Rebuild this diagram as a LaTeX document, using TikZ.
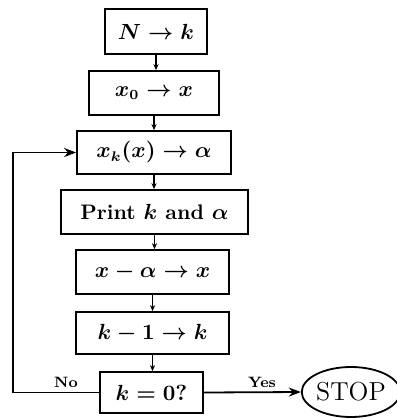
\documentclass[tikz,border=0pt]{standalone}
\usetikzlibrary{arrows.meta,shapes.geometric}
\begin{document}
\begin{tikzpicture}[x=0.5pt,y=-0.5pt,
  box/.style={draw,line width=0.9pt,inner sep=0pt,font=\fontsize{10.5}{12}\selectfont\bfseries\boldmath},
  flow/.style={line width=0.6pt,-{Stealth[length=3pt,width=2.6pt]}},
  loop/.style={line width=0.9pt,-{Stealth[length=6pt,width=4.5pt]}},
  lbl/.style={font=\fontsize{7.5}{9}\selectfont\bfseries,inner sep=0pt}]
\useasboundingbox (0,0) rectangle (397,419);
\node[box,minimum width=51pt,minimum height=22.5pt] (b1) at (156,31.5) {$N\to k$};
\node[box,minimum width=65pt,minimum height=22pt] (b2) at (154,93) {$x_0\to x$};
\node[box,minimum width=77pt,minimum height=21.5pt] (b3) at (154,152.5) {$x_k(x)\to\alpha$};
\node[box,minimum width=93.5pt,minimum height=22pt] (b4) at (154.5,212) {Print $k$ and $\alpha$};
\node[box,minimum width=76.5pt,minimum height=22pt] (b5) at (152.5,272) {$x-\alpha\to x$};
\node[box,minimum width=76.5pt,minimum height=21pt] (b6) at (152.5,333) {$k-1\to k$};
\node[box,minimum width=51.5pt,minimum height=20.5pt] (b7) at (151.5,392.5) {$k=0?$};
\node[draw,ellipse,line width=0.9pt,inner sep=0pt,minimum width=45pt,minimum height=25pt,font=\fontsize{13}{15}\selectfont] (stop) at (351,392) {STOP};
\coordinate (lp) at (13,0);
\draw[flow] (b1.south) -- (b1.south |- b2.north);
\draw[flow] (b2.south) -- (b2.south |- b3.north);
\draw[flow] (b3.south) -- (b3.south |- b4.north);
\draw[flow] (b4.south) -- (b4.south |- b5.north);
\draw[flow] (b5.south) -- (b5.south |- b6.north);
\draw[flow] (b6.south) -- (b6.south |- b7.north);
\draw[loop] (b7.west) -- (b7.west -| lp) |- (b3.west);
\draw[loop] (b7.east) -- (stop.west);
\node[lbl] (no) at (66,382) {No};
\node[lbl] (yes) at (262,382) {Yes};
\end{tikzpicture}
\end{document}
